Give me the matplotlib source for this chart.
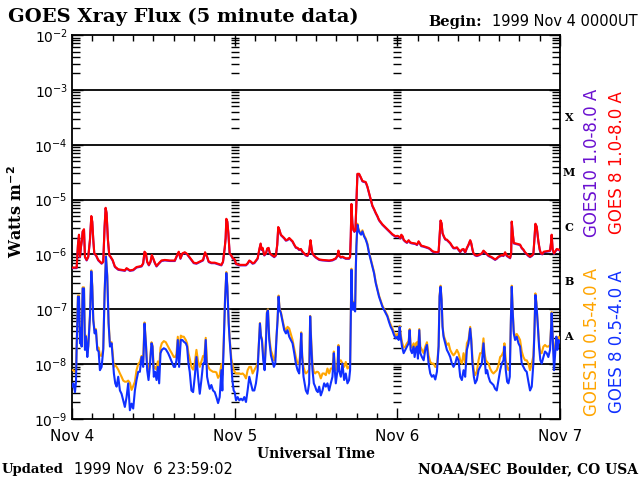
import numpy as np
import matplotlib
matplotlib.use('Agg')
import matplotlib.pyplot as plt
import matplotlib.transforms as mtransforms

# ---- data (hours since 1999 Nov 4 00:00 UT, log10 flux in W m^-2) ----
long_hours = [
    0.0, 0.69, 0.88, 1.03, 1.18, 1.33, 1.47, 1.57, 1.77, 1.91,
    2.16, 2.40, 2.65, 2.85, 2.99, 3.14, 3.29, 3.53, 3.88, 4.12,
    4.37, 4.61, 4.81, 4.96, 5.10, 5.30, 5.50, 5.69, 5.99, 6.33,
    6.82, 7.31, 7.80, 8.05, 8.54, 9.03, 9.52, 10.26, 10.50, 10.70,
    10.90, 11.09, 11.34, 11.58, 11.78, 11.98, 12.22, 12.47, 12.81, 13.20,
    13.69, 14.43, 15.17, 15.51, 15.75, 16.00, 16.29, 16.64, 16.98, 17.28,
    17.62, 17.96, 18.36, 18.85, 19.34, 19.63, 19.93, 20.17, 20.56, 21.06,
    21.55, 22.04, 22.28, 22.53, 22.67, 22.77, 22.92, 23.07, 23.26, 23.46,
    23.75,
    24.0, 24.20, 24.69, 25.67, 25.91, 26.16, 26.40, 26.65, 26.90, 27.14,
    27.39, 27.63, 27.83, 27.98, 28.12, 28.37, 28.61, 28.81, 29.01, 29.20,
    29.50, 29.84, 30.09, 30.28, 30.43, 30.58, 30.82, 31.07, 31.31, 31.56,
    31.80, 32.05, 32.29, 32.54, 32.79, 33.03, 33.28, 33.52, 33.77, 34.01,
    34.26, 34.50, 34.75, 34.99, 35.19, 35.34, 35.48, 35.73, 35.98, 36.22,
    36.47, 36.96, 37.94, 38.43, 38.92, 39.17, 39.31, 39.41, 39.66, 39.90,
    40.39, 40.88, 41.03, 41.13, 41.23, 41.37, 41.52, 41.67, 41.82, 41.96,
    42.11, 42.36, 42.60, 42.85, 43.34, 43.58, 43.83, 44.07, 44.32, 44.56,
    44.81, 45.06, 45.30, 45.55, 45.79, 46.04, 46.28, 46.53, 46.77, 47.02,
    47.26, 47.51, 47.75,
    48.0, 48.20, 48.44, 48.59, 48.79, 48.93, 49.18, 49.42, 49.67, 49.91,
    50.16, 50.65, 50.90, 51.14, 51.29, 51.53, 51.88, 52.37, 52.61, 52.86,
    53.10, 53.35, 53.84, 54.09, 54.23, 54.38, 54.53, 54.67, 54.87, 55.07,
    55.31, 55.56, 55.80, 56.05, 56.29, 56.54, 56.79, 57.03, 57.28, 57.52,
    57.77, 58.01, 58.26, 58.50, 58.75, 58.90, 59.09, 59.24, 59.48, 59.73,
    59.98, 60.47, 60.71, 60.96, 61.20, 61.45, 61.94, 62.43, 62.67, 62.92,
    63.41, 63.66, 63.90, 64.15, 64.64, 64.79, 64.88, 65.03, 65.18, 66.11,
    66.36, 66.60, 66.85, 67.09, 67.34, 67.58, 67.83, 68.07, 68.22, 68.37,
    68.56, 68.81, 69.01, 69.20, 69.40, 69.60, 70.53, 70.67, 70.77, 70.92,
    71.12, 71.26, 71.51, 71.80, 72.0,
]

goes8_long = [
    -6.24, -6.24, -5.82, -5.64, -6.04, -5.85, -5.73, -5.58, -5.54, -6.04,
    -6.10, -6.04, -5.73, -5.30, -5.40, -5.73, -5.98, -6.01, -6.10, -6.13,
    -6.16, -6.13, -5.49, -5.15, -5.24, -5.73, -6.01, -6.04, -6.10, -6.22,
    -6.27, -6.28, -6.29, -6.25, -6.29, -6.28, -6.23, -6.21, -6.16, -5.95,
    -5.98, -6.13, -6.19, -6.13, -6.01, -6.07, -6.15, -6.21, -6.16, -6.11,
    -6.10, -6.11, -6.11, -6.01, -5.95, -6.07, -5.98, -5.96, -5.99, -6.04,
    -6.10, -6.15, -6.16, -6.13, -6.10, -5.96, -6.04, -6.13, -6.15, -6.15,
    -6.17, -6.19, -6.13, -5.88, -5.70, -5.35, -5.40, -5.61, -5.98, -6.01,
    -6.07,
    -6.09, -6.17, -6.19, -6.19, -6.16, -6.11, -6.13, -6.16, -6.15, -6.11,
    -6.07, -5.91, -5.80, -5.91, -5.88, -6.01, -5.98, -5.89, -5.88, -5.98,
    -6.01, -6.04, -6.01, -5.82, -5.50, -5.54, -5.64, -5.67, -5.70, -5.74,
    -5.73, -5.70, -5.73, -5.76, -5.82, -5.87, -5.88, -5.91, -5.90, -5.95,
    -5.98, -6.01, -6.02, -5.95, -5.74, -5.88, -5.98, -6.02, -6.05, -6.07,
    -6.09, -6.10, -6.11, -6.10, -6.07, -6.02, -5.93, -6.02, -6.05, -6.04,
    -6.07, -6.07, -6.04, -5.67, -5.08, -5.43, -5.55, -5.58, -5.55, -5.06,
    -4.53, -4.53, -4.59, -4.66, -4.68, -4.76, -4.88, -5.00, -5.11, -5.17,
    -5.24, -5.30, -5.37, -5.41, -5.45, -5.48, -5.51, -5.54, -5.57, -5.60,
    -5.63, -5.65, -5.67,
    -5.66, -5.67, -5.70, -5.64, -5.67, -5.73, -5.76, -5.78, -5.74, -5.78,
    -5.79, -5.80, -5.82, -5.76, -5.79, -5.84, -5.85, -5.87, -5.88, -5.90,
    -5.93, -5.95, -5.96, -5.95, -5.67, -5.38, -5.43, -5.61, -5.67, -5.72,
    -5.73, -5.76, -5.79, -5.84, -5.88, -5.88, -5.87, -5.91, -5.95, -5.91,
    -5.90, -5.96, -5.88, -5.82, -5.74, -5.79, -5.91, -5.98, -6.01, -6.02,
    -6.01, -5.98, -5.93, -5.96, -5.99, -6.02, -6.05, -6.09, -6.07, -6.04,
    -6.01, -6.02, -5.96, -6.02, -6.06, -5.98, -5.40, -5.61, -5.79, -5.82,
    -5.88, -5.91, -5.96, -5.99, -6.02, -6.04, -6.02, -5.99, -5.73, -5.44,
    -5.49, -5.76, -5.91, -5.98, -5.99, -5.95, -5.93, -5.79, -5.64, -5.91,
    -5.98, -5.95, -5.90, -5.91, -5.92,
]

goes10_long = [
    -6.25, -6.25, -5.83, -5.65, -6.05, -5.86, -5.74, -5.59, -5.55, -6.05,
    -6.11, -6.05, -5.74, -5.31, -5.41, -5.74, -5.99, -6.02, -6.11, -6.14,
    -6.17, -6.14, -5.50, -5.16, -5.25, -5.74, -6.02, -6.05, -6.11, -6.23,
    -6.28, -6.29, -6.30, -6.26, -6.30, -6.29, -6.24, -6.22, -6.17, -5.96,
    -5.99, -6.14, -6.20, -6.14, -6.02, -6.08, -6.16, -6.22, -6.17, -6.12,
    -6.11, -6.12, -6.12, -6.02, -5.96, -6.08, -5.99, -5.97, -6.00, -6.05,
    -6.11, -6.16, -6.17, -6.14, -6.11, -5.97, -6.05, -6.14, -6.16, -6.16,
    -6.18, -6.20, -6.14, -5.89, -5.71, -5.36, -5.41, -5.62, -5.99, -6.02,
    -6.08,
    -6.10, -6.18, -6.20, -6.20, -6.17, -6.12, -6.14, -6.17, -6.16, -6.12,
    -6.08, -5.92, -5.81, -5.92, -5.89, -6.02, -5.99, -5.90, -5.89, -5.99,
    -6.02, -6.05, -6.02, -5.83, -5.51, -5.55, -5.65, -5.68, -5.71, -5.75,
    -5.74, -5.71, -5.74, -5.77, -5.83, -5.88, -5.89, -5.92, -5.91, -5.96,
    -5.99, -6.02, -6.03, -5.96, -5.75, -5.89, -5.99, -6.03, -6.06, -6.08,
    -6.10, -6.11, -6.12, -6.11, -6.08, -6.03, -5.94, -6.03, -6.06, -6.05,
    -6.08, -6.08, -6.05, -5.68, -5.09, -5.44, -5.56, -5.59, -5.56, -5.07,
    -4.54, -4.54, -4.60, -4.67, -4.69, -4.77, -4.89, -5.01, -5.12, -5.18,
    -5.25, -5.31, -5.38, -5.42, -5.46, -5.49, -5.52, -5.55, -5.58, -5.61,
    -5.64, -5.66, -5.68,
    -5.67, -5.68, -5.71, -5.65, -5.68, -5.74, -5.77, -5.79, -5.75, -5.79,
    -5.80, -5.81, -5.83, -5.77, -5.80, -5.85, -5.86, -5.88, -5.89, -5.91,
    -5.94, -5.96, -5.97, -5.96, -5.68, -5.39, -5.44, -5.62, -5.68, -5.73,
    -5.74, -5.77, -5.80, -5.85, -5.89, -5.89, -5.88, -5.92, -5.96, -5.92,
    -5.91, -5.97, -5.89, -5.83, -5.75, -5.80, -5.92, -5.99, -6.02, -6.03,
    -6.02, -5.99, -5.94, -5.97, -6.00, -6.03, -6.06, -6.10, -6.08, -6.05,
    -6.02, -6.03, -5.97, -6.03, -6.07, -5.99, -5.41, -5.62, -5.80, -5.83,
    -5.89, -5.92, -5.97, -6.00, -6.03, -6.05, -6.03, -6.00, -5.74, -5.45,
    -5.50, -5.77, -5.92, -5.99, -6.00, -5.96, -5.94, -5.80, -5.65, -5.92,
    -5.99, -5.96, -5.91, -5.92, -5.93,
]

short_hours = [
    0.0, 0.20, 0.44, 0.59, 0.69, 0.88, 1.03, 1.18, 1.33, 1.42,
    1.57, 1.77, 1.91, 2.06, 2.26, 2.40, 2.65, 2.85, 2.99, 3.14,
    3.34, 3.53, 3.73, 3.93, 4.12, 4.37, 4.61, 4.81, 5.01, 5.20,
    5.40, 5.60, 5.84, 5.99, 6.18, 6.38, 6.58, 6.82, 7.07, 7.31,
    7.56, 7.80, 8.05, 8.29, 8.54, 8.79, 9.03, 9.28, 9.52, 9.77,
    10.01, 10.26, 10.50, 10.70, 10.90, 11.09, 11.29, 11.48, 11.73, 11.88,
    12.07, 12.27, 12.47, 12.66, 12.86, 13.06, 13.25, 13.55, 13.84, 14.18,
    14.43, 14.72, 15.02, 15.21, 15.41, 15.61, 15.80, 16.05, 16.29, 16.49,
    16.79, 16.98, 17.18, 17.37, 17.62, 17.87, 18.11, 18.36, 18.60, 18.85,
    19.09, 19.34, 19.53, 19.73, 19.93, 20.12, 20.32, 20.56, 20.81, 21.06,
    21.30, 21.55, 21.79, 22.04, 22.18, 22.38, 22.58, 22.77, 22.92, 23.12,
    23.26, 23.51, 23.66, 23.85,
    24.0, 24.20, 24.44, 24.69, 24.93, 25.18, 25.42, 25.67, 25.91, 26.16,
    26.40, 26.65, 26.90, 27.14, 27.39, 27.53, 27.73, 27.88, 28.02, 28.22,
    28.42, 28.61, 28.76, 28.91, 29.10, 29.35, 29.60, 29.79, 29.99, 30.18,
    30.33, 30.48, 30.63, 30.82, 31.07, 31.31, 31.56, 31.80, 32.05, 32.29,
    32.54, 32.79, 33.03, 33.28, 33.52, 33.67, 33.82, 33.96, 34.16, 34.36,
    34.50, 34.75, 34.99, 35.14, 35.29, 35.48, 35.68, 35.88, 36.07, 36.27,
    36.47, 36.71, 36.96, 37.20, 37.45, 37.69, 37.94, 38.18, 38.43, 38.63,
    38.77, 38.92, 39.17, 39.31, 39.41, 39.66, 39.90, 40.15, 40.39, 40.64,
    40.88, 41.03, 41.13, 41.23, 41.33, 41.47, 41.62, 41.77, 41.87, 41.96,
    42.11, 42.26, 42.45, 42.65, 42.85, 43.09, 43.34, 43.58, 43.83, 44.07,
    44.32, 44.56, 44.81, 45.06, 45.30, 45.55, 45.79, 46.04, 46.28, 46.53,
    46.77, 47.02, 47.26, 47.51, 47.75,
    48.0, 48.20, 48.34, 48.49, 48.69, 48.93, 49.18, 49.42, 49.67, 49.82,
    49.96, 50.16, 50.40, 50.55, 50.75, 50.90, 51.04, 51.24, 51.39, 51.63,
    51.88, 52.12, 52.37, 52.61, 52.86, 53.10, 53.35, 53.60, 53.84, 54.09,
    54.23, 54.38, 54.53, 54.67, 54.82, 55.07, 55.31, 55.56, 55.80, 56.05,
    56.29, 56.54, 56.79, 57.03, 57.28, 57.52, 57.77, 58.01, 58.26, 58.50,
    58.75, 58.90, 59.09, 59.29, 59.48, 59.73, 59.98, 60.22, 60.47, 60.71,
    60.86, 61.06, 61.25, 61.45, 61.69, 61.94, 62.18, 62.43, 62.67, 62.92,
    63.17, 63.41, 63.66, 63.80, 64.00, 64.20, 64.39, 64.59, 64.74, 64.88,
    65.03, 65.18, 65.37, 65.62, 65.87, 66.11, 66.36, 66.60, 66.85, 67.09,
    67.34, 67.58, 67.83, 68.07, 68.22, 68.37, 68.51, 68.71, 68.91, 69.10,
    69.30, 69.55, 69.79, 70.04, 70.28, 70.53, 70.67, 70.77, 70.92, 71.12,
    71.26, 71.46, 71.61, 71.80, 72.0,
]

goes8_short = [
    -8.41, -8.35, -8.51, -8.32, -7.68, -6.77, -6.77, -7.62, -7.35, -7.68,
    -6.62, -6.62, -7.74, -7.50, -7.87, -7.68, -7.13, -6.31, -6.59, -7.20,
    -7.44, -7.38, -7.74, -7.77, -8.11, -8.05, -7.74, -6.71, -6.04, -6.40,
    -7.26, -7.68, -7.62, -7.87, -8.17, -8.35, -8.41, -8.23, -8.48, -8.54,
    -8.66, -8.78, -8.60, -8.35, -8.84, -8.72, -8.81, -8.48, -8.29, -8.14,
    -8.14, -7.87, -8.05, -7.26, -7.62, -8.11, -8.29, -8.05, -7.62, -7.68,
    -8.23, -8.14, -8.29, -8.05, -8.35, -7.80, -7.74, -7.71, -7.73, -7.80,
    -7.87, -7.96, -8.05, -8.05, -7.93, -7.56, -8.05, -7.56, -7.56, -7.59,
    -7.62, -7.68, -7.99, -8.14, -8.48, -8.51, -8.23, -7.87, -8.23, -8.54,
    -8.29, -7.99, -7.99, -7.56, -8.23, -8.35, -8.45, -8.38, -8.48, -8.51,
    -8.60, -8.71, -8.60, -8.11, -8.48, -7.62, -6.83, -6.34, -6.59, -7.26,
    -7.56, -7.99, -8.29, -8.48,
    -8.51, -8.66, -8.60, -8.66, -8.63, -8.66, -8.60, -8.69, -8.48, -8.23,
    -8.35, -8.48, -8.48, -8.35, -8.11, -7.74, -7.26, -7.50, -7.56, -7.93,
    -8.11, -7.62, -7.07, -7.02, -7.56, -7.84, -7.96, -8.05, -7.99, -7.50,
    -7.20, -6.77, -7.01, -7.07, -7.23, -7.38, -7.44, -7.38, -7.50, -7.56,
    -7.62, -7.80, -7.99, -8.11, -8.17, -7.84, -7.44, -7.87, -8.23, -8.38,
    -8.48, -8.54, -8.35, -7.13, -7.62, -8.11, -8.35, -8.41, -8.48, -8.51,
    -8.41, -8.57, -8.48, -8.35, -8.41, -8.35, -8.48, -8.35, -8.23, -7.80,
    -8.11, -8.35, -8.11, -7.68, -8.11, -8.23, -7.99, -8.29, -8.17, -8.35,
    -8.29, -8.11, -7.20, -6.28, -6.83, -7.01, -6.89, -7.04, -6.28, -5.85,
    -5.46, -5.55, -5.61, -5.64, -5.58, -5.67, -5.73, -5.82, -5.98, -6.10,
    -6.22, -6.34, -6.52, -6.65, -6.77, -6.86, -6.95, -7.01, -7.07, -7.13,
    -7.23, -7.32, -7.38, -7.47, -7.53,
    -7.50, -7.56, -7.32, -7.50, -7.68, -7.80, -7.74, -7.68, -7.62, -7.38,
    -7.74, -7.80, -7.68, -7.87, -7.71, -7.68, -7.90, -7.38, -7.80, -7.87,
    -7.93, -7.74, -7.65, -7.99, -8.17, -8.23, -8.20, -8.28, -8.14, -7.68,
    -6.77, -6.59, -6.83, -7.32, -7.50, -7.62, -7.74, -7.80, -7.87, -7.99,
    -8.05, -7.99, -7.87, -7.93, -8.23, -8.29, -8.11, -8.23, -7.74, -7.62,
    -7.35, -7.56, -7.99, -8.23, -8.35, -8.29, -8.11, -8.05, -7.99, -7.62,
    -7.87, -8.17, -8.11, -8.23, -8.32, -8.35, -8.38, -8.45, -8.48, -8.29,
    -8.11, -7.99, -7.93, -7.68, -8.11, -8.32, -8.35, -8.23, -7.26, -6.59,
    -7.07, -7.44, -7.56, -7.50, -7.62, -7.68, -7.99, -8.05, -8.11, -8.14,
    -8.32, -8.48, -8.41, -7.99, -7.44, -6.74, -6.89, -7.26, -7.68, -7.93,
    -7.99, -7.87, -7.77, -7.80, -7.87, -7.74, -7.38, -7.07, -7.50, -8.11,
    -7.87, -7.50, -7.74, -7.56, -7.60,
]

goes10_short = [
    -8.11, -8.11, -8.14, -8.11, -7.66, -6.75, -6.75, -7.60, -7.33, -7.66,
    -6.60, -6.60, -7.70, -7.48, -7.80, -7.66, -7.11, -6.29, -6.57, -7.18,
    -7.40, -7.36, -7.70, -7.70, -7.84, -7.85, -7.72, -6.69, -6.03, -6.38,
    -7.24, -7.62, -7.60, -7.78, -8.05, -8.02, -8.05, -8.10, -8.17, -8.23,
    -8.30, -8.32, -8.32, -8.30, -8.34, -8.47, -8.40, -8.32, -8.11, -8.00,
    -7.96, -7.85, -7.93, -7.24, -7.60, -8.02, -8.10, -7.98, -7.60, -7.66,
    -8.08, -8.05, -8.10, -7.95, -8.05, -7.70, -7.62, -7.58, -7.60, -7.68,
    -7.74, -7.80, -7.87, -7.87, -7.82, -7.50, -7.85, -7.48, -7.50, -7.50,
    -7.56, -7.62, -7.80, -7.90, -8.05, -8.10, -7.98, -7.74, -7.95, -8.05,
    -7.95, -7.85, -7.86, -7.52, -7.98, -8.05, -8.10, -8.12, -8.14, -8.14,
    -8.15, -8.25, -8.20, -8.00, -8.20, -7.60, -6.81, -6.32, -6.57, -7.24,
    -7.52, -7.90, -8.00, -8.10,
    -8.14, -8.17, -8.17, -8.17, -8.18, -8.17, -8.20, -8.26, -8.11, -8.05,
    -8.05, -8.17, -8.11, -8.05, -7.99, -7.72, -7.25, -7.48, -7.53, -7.84,
    -8.02, -7.56, -7.05, -7.00, -7.50, -7.75, -7.84, -7.93, -7.87, -7.47,
    -7.18, -6.75, -6.99, -7.05, -7.20, -7.33, -7.38, -7.32, -7.35, -7.45,
    -7.56, -7.72, -7.87, -7.99, -7.99, -7.80, -7.42, -7.84, -8.05, -8.14,
    -8.17, -8.14, -8.10, -7.12, -7.55, -7.99, -8.14, -8.17, -8.14, -8.14,
    -8.17, -8.26, -8.17, -8.17, -8.20, -8.08, -8.17, -8.08, -8.08, -7.77,
    -8.00, -8.11, -8.00, -7.65, -7.96, -7.93, -7.99, -8.05, -7.96, -8.08,
    -8.05, -8.02, -7.18, -6.26, -6.81, -6.99, -6.87, -7.02, -6.26, -5.83,
    -5.44, -5.53, -5.59, -5.62, -5.56, -5.65, -5.71, -5.80, -5.96, -6.08,
    -6.20, -6.32, -6.50, -6.63, -6.75, -6.84, -6.93, -6.99, -7.05, -7.11,
    -7.20, -7.28, -7.34, -7.42, -7.48,
    -7.45, -7.53, -7.30, -7.45, -7.60, -7.70, -7.68, -7.62, -7.58, -7.36,
    -7.65, -7.70, -7.62, -7.75, -7.62, -7.60, -7.75, -7.36, -7.68, -7.74,
    -7.80, -7.68, -7.60, -7.84, -7.96, -7.99, -7.99, -8.05, -8.05, -7.66,
    -6.75, -6.57, -6.81, -7.30, -7.47, -7.56, -7.65, -7.62, -7.74, -7.80,
    -7.84, -7.80, -7.74, -7.80, -7.93, -7.99, -7.80, -7.99, -7.62, -7.56,
    -7.32, -7.52, -7.90, -8.11, -8.20, -8.14, -7.93, -7.80, -7.80, -7.53,
    -7.80, -7.93, -7.96, -7.99, -8.08, -8.14, -8.17, -8.14, -8.11, -8.02,
    -7.87, -7.84, -7.77, -7.62, -7.93, -8.05, -8.11, -8.05, -7.24, -6.57,
    -7.05, -7.40, -7.50, -7.45, -7.50, -7.56, -7.77, -7.87, -7.93, -7.93,
    -7.99, -8.11, -7.99, -7.85, -7.42, -6.71, -6.87, -7.24, -7.62, -7.80,
    -7.80, -7.68, -7.65, -7.68, -7.68, -7.65, -7.36, -7.05, -7.45, -7.87,
    -7.74, -7.50, -7.62, -7.50, -7.55,
]

day_ticks = [0, 24, 48, 72]
day_labels = ['Nov 4', 'Nov 5', 'Nov 6', 'Nov 7']
decades = [-9, -8, -7, -6, -5, -4, -3, -2]
class_letters = ['A', 'B', 'C', 'M', 'X']
class_decades = [-8, -7, -6, -5, -4]

C_RED = '#ff0000'
C_PURPLE = '#6a10d0'
C_ORANGE = '#ffa500'
C_BLUE = '#1030ff'

fig = plt.figure(figsize=(6.4, 4.8), dpi=100)
ax = fig.add_axes([72 / 640, 1 - 419 / 480, 488 / 640, 384 / 480])
ax.set_yscale('log')
ax.set_xlim(0, 72)
ax.set_ylim(1e-9, 1e-2)

sh = np.array(short_hours)
lh = np.array(long_hours)
lw = 1.5
ax.plot(sh, 10 ** np.array(goes10_short), color=C_ORANGE, lw=lw, zorder=3)
ax.plot(sh, 10 ** np.array(goes8_short), color=C_BLUE, lw=lw, zorder=4)
ax.plot(lh, 10 ** np.array(goes10_long), color=C_PURPLE, lw=lw, zorder=5)
ax.plot(lh, 10 ** np.array(goes8_long), color=C_RED, lw=lw, zorder=6)

for d in decades[1:-1]:
    ax.axhline(10.0 ** d, color='black', lw=1.3, zorder=2)

# tick marks at day boundaries
mvals = [m * 10.0 ** d for d in decades[:-1] for m in range(1, 10)]
for xd in day_ticks[1:-1]:
    ax.plot([xd] * len(mvals), mvals, ls='none', marker='_', ms=5.5,
            mew=1.0, color='black', zorder=2)

ax.set_yticks([10.0 ** d for d in decades])
ax.set_yticklabels([r'$10^{%d}$' % d for d in decades])
ax.yaxis.set_minor_locator(matplotlib.ticker.LogLocator(base=10, subs=range(2, 10), numticks=20))
ax.yaxis.set_minor_formatter(matplotlib.ticker.NullFormatter())
ax.set_xticks(day_ticks)
ax.set_xticklabels(day_labels)
ax.xaxis.set_minor_locator(matplotlib.ticker.MultipleLocator(3))
ax.tick_params(which='both', direction='in', top=True, right=True, colors='black')
ax.tick_params(axis='y', which='major', length=8, width=1, labelsize=10, pad=3)
ax.tick_params(axis='y', which='minor', length=5.5, width=1)
ax.tick_params(axis='x', which='major', length=8, width=1, labelsize=11, pad=7)
ax.tick_params(axis='x', which='minor', length=4.5, width=1)
for s in ax.spines.values():
    s.set_linewidth(1.3)

ax.set_xlabel('Universal Time', fontfamily='DejaVu Serif', fontweight='bold',
              fontsize=10, labelpad=2)
fig.text(17 / 640, 1 - 211 / 480, r'Watts m$^{\mathbf{-2}}$', rotation=90,
         fontfamily='DejaVu Serif', fontweight='bold', fontsize=11.5,
         ha='center', va='center')

trans = mtransforms.blended_transform_factory(ax.transAxes, ax.transData)
for letter, d in zip(class_letters, class_decades):
    ax.text(1.018, 10.0 ** (d + 0.5), letter, transform=trans, ha='center',
            va='center', fontfamily='DejaVu Serif', fontweight='bold', fontsize=8)

fig.text(592 / 640, 1 - 163 / 480, 'GOES10 1.0-8.0 A', rotation=90, color=C_PURPLE,
         ha='center', va='center', fontsize=12)
fig.text(617 / 640, 1 - 163 / 480, 'GOES 8 1.0-8.0 A', rotation=90, color=C_RED,
         ha='center', va='center', fontsize=12)
fig.text(592 / 640, 1 - 342 / 480, 'GOES10 0.5-4.0 A', rotation=90, color=C_ORANGE,
         ha='center', va='center', fontsize=12)
fig.text(617 / 640, 1 - 342 / 480, 'GOES 8 0.5-4.0 A', rotation=90, color=C_BLUE,
         ha='center', va='center', fontsize=12)

fig.text(8 / 640, 1 - 17 / 480, 'GOES Xray Flux (5 minute data)', fontfamily='DejaVu Serif',
         fontweight='bold', fontsize=14, ha='left', va='center')
fig.text(428 / 640, 1 - 22 / 480, 'Begin:', fontfamily='DejaVu Serif',
         fontweight='bold', fontsize=10.5, ha='left', va='center')
fig.text(638 / 640, 1 - 22 / 480, '1999 Nov 4 0000UT', fontsize=10.5, ha='right', va='center')
fig.text(2 / 640, 1 - 469 / 480, 'Updated', fontfamily='DejaVu Serif',
         fontweight='bold', fontsize=9.5, ha='left', va='center')
fig.text(74 / 640, 1 - 469 / 480, '1999 Nov  6 23:59:02', fontsize=10.5, ha='left', va='center')
fig.text(638 / 640, 1 - 469 / 480, 'NOAA/SEC Boulder, CO USA', fontfamily='DejaVu Serif',
         fontweight='bold', fontsize=10, ha='right', va='center')

fig.savefig('out.png', dpi=100, facecolor='white')
